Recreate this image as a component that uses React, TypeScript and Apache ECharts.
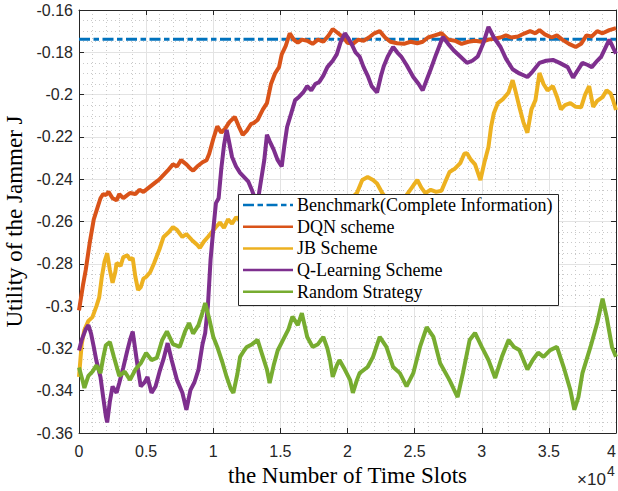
import { useEffect, useRef } from "react";
import * as echarts from "echarts";

const seriesNames = [
  "Benchmark(Complete Information)",
  "DQN scheme",
  "JB Scheme",
  "Q-Learning Scheme",
  "Random Strategy",
];

const benchmarkValue = -0.1738;
const benchmarkX = [0, 4];

const dqnX = [0, 0.03, 0.05, 0.08, 0.11, 0.14, 0.16, 0.18, 0.2, 0.22, 0.25, 0.28, 0.3, 0.33, 0.35, 0.38, 0.42, 0.45, 0.48, 0.52, 0.56, 0.6, 0.63, 0.66, 0.7, 0.73, 0.76, 0.8, 0.83, 0.85, 0.88, 0.92, 0.95, 0.97, 1.0, 1.03, 1.06, 1.09, 1.12, 1.16, 1.19, 1.22, 1.25, 1.28, 1.3, 1.33, 1.37, 1.4, 1.43, 1.46, 1.49, 1.51, 1.54, 1.57, 1.6, 1.63, 1.66, 1.7, 1.74, 1.78, 1.82, 1.86, 1.89, 1.93, 1.97, 2.0, 2.04, 2.08, 2.12, 2.16, 2.2, 2.24, 2.28, 2.32, 2.37, 2.42, 2.47, 2.52, 2.56, 2.6, 2.65, 2.7, 2.75, 2.8, 2.85, 2.9, 2.95, 3.0, 3.05, 3.1, 3.14, 3.18, 3.22, 3.27, 3.32, 3.36, 3.4, 3.43, 3.47, 3.52, 3.56, 3.6, 3.65, 3.7, 3.74, 3.78, 3.82, 3.86, 3.9, 3.95, 4.0];
const dqnY = [-0.302, -0.29, -0.283, -0.27, -0.259, -0.253, -0.249, -0.247, -0.2475, -0.246, -0.249, -0.25, -0.247, -0.249, -0.248, -0.2465, -0.247, -0.245, -0.246, -0.244, -0.242, -0.24, -0.238, -0.236, -0.233, -0.234, -0.231, -0.233, -0.235, -0.236, -0.234, -0.232, -0.231, -0.228, -0.221, -0.215, -0.218, -0.216, -0.213, -0.2105, -0.215, -0.219, -0.217, -0.214, -0.2135, -0.212, -0.207, -0.204, -0.195, -0.19, -0.187, -0.181, -0.177, -0.171, -0.174, -0.1755, -0.174, -0.1745, -0.176, -0.174, -0.175, -0.172, -0.169, -0.171, -0.173, -0.1755, -0.176, -0.174, -0.1745, -0.173, -0.171, -0.17, -0.173, -0.175, -0.1757, -0.176, -0.175, -0.1757, -0.175, -0.173, -0.172, -0.171, -0.174, -0.1745, -0.176, -0.175, -0.1745, -0.175, -0.174, -0.1735, -0.173, -0.172, -0.173, -0.1725, -0.171, -0.17, -0.171, -0.1695, -0.1715, -0.173, -0.172, -0.174, -0.176, -0.1775, -0.176, -0.172, -0.1725, -0.17, -0.171, -0.1695, -0.1686];

const jbX = [0, 0.02, 0.04, 0.07, 0.1, 0.13, 0.15, 0.17, 0.19, 0.21, 0.23, 0.25, 0.27, 0.28, 0.31, 0.33, 0.36, 0.38, 0.4, 0.42, 0.44, 0.46, 0.48, 0.5, 0.53, 0.56, 0.6, 0.63, 0.67, 0.7, 0.73, 0.77, 0.8, 0.84, 0.88, 0.9, 0.93, 0.96, 0.99, 1.02, 1.05, 1.08, 1.11, 1.14, 1.17, 1.2, 1.25, 1.32, 1.4, 1.48, 1.55, 1.62, 1.7, 1.78, 1.85, 1.92, 1.98, 2.03, 2.07, 2.11, 2.15, 2.19, 2.22, 2.26, 2.3, 2.35, 2.4, 2.45, 2.49, 2.52, 2.55, 2.58, 2.62, 2.66, 2.7, 2.73, 2.76, 2.8, 2.84, 2.87, 2.89, 2.92, 2.95, 2.99, 3.02, 3.05, 3.07, 3.09, 3.12, 3.16, 3.2, 3.23, 3.25, 3.28, 3.31, 3.34, 3.37, 3.4, 3.43, 3.46, 3.49, 3.53, 3.56, 3.59, 3.62, 3.66, 3.7, 3.74, 3.77, 3.8, 3.83, 3.86, 3.9, 3.93, 3.96, 3.98, 4.0];
const jbY = [-0.3335, -0.318, -0.3113, -0.307, -0.3052, -0.3, -0.296, -0.2862, -0.279, -0.275, -0.283, -0.289, -0.284, -0.2796, -0.281, -0.2768, -0.276, -0.278, -0.2773, -0.2862, -0.2924, -0.291, -0.287, -0.2862, -0.284, -0.2796, -0.273, -0.2673, -0.265, -0.2626, -0.264, -0.2673, -0.266, -0.2687, -0.271, -0.2725, -0.2695, -0.2673, -0.265, -0.2626, -0.2605, -0.263, -0.259, -0.261, -0.258, -0.2595, -0.256, -0.258, -0.255, -0.257, -0.254, -0.256, -0.253, -0.255, -0.252, -0.254, -0.25, -0.249, -0.2465, -0.2404, -0.239, -0.2404, -0.242, -0.2466, -0.25, -0.253, -0.251, -0.2466, -0.243, -0.2404, -0.244, -0.2466, -0.245, -0.246, -0.2455, -0.241, -0.2366, -0.235, -0.2324, -0.228, -0.2277, -0.2309, -0.233, -0.2404, -0.232, -0.2248, -0.215, -0.2088, -0.204, -0.202, -0.199, -0.1932, -0.198, -0.2058, -0.213, -0.218, -0.207, -0.2026, -0.1898, -0.195, -0.198, -0.196, -0.201, -0.207, -0.205, -0.204, -0.2058, -0.206, -0.2, -0.196, -0.2058, -0.203, -0.2012, -0.198, -0.1994, -0.203, -0.2073];

const qX = [0, 0.02, 0.05, 0.07, 0.09, 0.11, 0.13, 0.16, 0.18, 0.2, 0.21, 0.23, 0.25, 0.28, 0.3, 0.33, 0.36, 0.38, 0.4, 0.42, 0.44, 0.46, 0.49, 0.51, 0.54, 0.57, 0.6, 0.63, 0.66, 0.69, 0.73, 0.77, 0.8, 0.83, 0.86, 0.89, 0.92, 0.94, 0.96, 0.98, 1.0, 1.02, 1.04, 1.06, 1.08, 1.1, 1.12, 1.14, 1.17, 1.2, 1.23, 1.26, 1.29, 1.31, 1.33, 1.35, 1.38, 1.4, 1.42, 1.45, 1.48, 1.51, 1.53, 1.55, 1.58, 1.61, 1.64, 1.67, 1.7, 1.73, 1.76, 1.79, 1.82, 1.85, 1.89, 1.92, 1.95, 1.98, 2.0, 2.03, 2.06, 2.09, 2.12, 2.15, 2.18, 2.22, 2.25, 2.27, 2.3, 2.34, 2.37, 2.4, 2.44, 2.49, 2.53, 2.56, 2.59, 2.62, 2.66, 2.71, 2.75, 2.79, 2.84, 2.89, 2.93, 2.97, 3.01, 3.05, 3.09, 3.14, 3.18, 3.23, 3.28, 3.34, 3.38, 3.43, 3.48, 3.53, 3.58, 3.64, 3.68, 3.72, 3.75, 3.79, 3.82, 3.86, 3.89, 3.92, 3.95, 3.98, 4.0];
const qY = [-0.321, -0.316, -0.311, -0.309, -0.313, -0.3193, -0.326, -0.3335, -0.343, -0.352, -0.355, -0.345, -0.338, -0.341, -0.3364, -0.329, -0.321, -0.316, -0.312, -0.321, -0.33, -0.338, -0.336, -0.3335, -0.341, -0.338, -0.331, -0.325, -0.3175, -0.3255, -0.335, -0.341, -0.349, -0.3397, -0.336, -0.33, -0.318, -0.3127, -0.3, -0.278, -0.264, -0.2513, -0.249, -0.235, -0.224, -0.2167, -0.223, -0.2295, -0.234, -0.237, -0.239, -0.241, -0.2455, -0.249, -0.251, -0.243, -0.231, -0.219, -0.222, -0.226, -0.231, -0.234, -0.224, -0.2153, -0.209, -0.2026, -0.201, -0.199, -0.196, -0.198, -0.195, -0.194, -0.191, -0.187, -0.184, -0.181, -0.175, -0.171, -0.1728, -0.176, -0.18, -0.182, -0.187, -0.191, -0.196, -0.199, -0.191, -0.1866, -0.182, -0.1775, -0.18, -0.182, -0.186, -0.1917, -0.195, -0.198, -0.193, -0.188, -0.181, -0.1728, -0.176, -0.179, -0.182, -0.185, -0.184, -0.182, -0.176, -0.168, -0.173, -0.1775, -0.183, -0.188, -0.19, -0.1917, -0.189, -0.185, -0.184, -0.1836, -0.185, -0.187, -0.192, -0.188, -0.185, -0.186, -0.187, -0.184, -0.182, -0.178, -0.174, -0.178, -0.1806];

const randX = [0, 0.03, 0.04, 0.07, 0.1, 0.13, 0.16, 0.18, 0.2, 0.23, 0.26, 0.3, 0.34, 0.38, 0.42, 0.46, 0.5, 0.54, 0.58, 0.62, 0.655, 0.7, 0.75, 0.79, 0.82, 0.85, 0.89, 0.92, 0.94, 0.97, 1.0, 1.03, 1.07, 1.1, 1.13, 1.15, 1.18, 1.2, 1.23, 1.25, 1.29, 1.33, 1.37, 1.4, 1.42, 1.45, 1.48, 1.52, 1.56, 1.59, 1.63, 1.66, 1.7, 1.74, 1.78, 1.82, 1.85, 1.87, 1.89, 1.92, 1.94, 1.98, 2.02, 2.04, 2.07, 2.09, 2.15, 2.19, 2.24, 2.29, 2.34, 2.39, 2.44, 2.49, 2.54, 2.59, 2.64, 2.69, 2.76, 2.82, 2.86, 2.91, 2.95, 3.0, 3.05, 3.1, 3.15, 3.2, 3.24, 3.28, 3.34, 3.38, 3.42, 3.46, 3.51, 3.56, 3.61, 3.66, 3.69, 3.72, 3.75, 3.81, 3.86, 3.9, 3.93, 3.97, 4.0];
const randY = [-0.329, -0.336, -0.3387, -0.333, -0.331, -0.328, -0.3317, -0.3245, -0.3185, -0.317, -0.324, -0.333, -0.331, -0.3349, -0.33, -0.327, -0.3222, -0.3255, -0.3245, -0.316, -0.312, -0.318, -0.3193, -0.312, -0.308, -0.313, -0.309, -0.303, -0.2985, -0.306, -0.3145, -0.3193, -0.327, -0.3335, -0.339, -0.341, -0.332, -0.324, -0.321, -0.3193, -0.318, -0.316, -0.324, -0.33, -0.3364, -0.328, -0.321, -0.316, -0.311, -0.305, -0.309, -0.3033, -0.3146, -0.3193, -0.318, -0.3146, -0.32, -0.3255, -0.3335, -0.328, -0.3255, -0.33, -0.335, -0.341, -0.335, -0.3317, -0.3288, -0.324, -0.3146, -0.3193, -0.3288, -0.3317, -0.338, -0.3317, -0.3193, -0.31, -0.3146, -0.327, -0.335, -0.343, -0.3317, -0.316, -0.3127, -0.3193, -0.3255, -0.334, -0.324, -0.316, -0.3193, -0.3208, -0.33, -0.3255, -0.322, -0.324, -0.3208, -0.3193, -0.3288, -0.3397, -0.349, -0.343, -0.3317, -0.3193, -0.308, -0.2965, -0.305, -0.3193, -0.324];

const colors = ["#0072BD", "#D95319", "#EDB120", "#7E2F8E", "#77AC30"];
const benchDash = [11, 3.5, 5.5, 3.5];

const zip = (xs: number[], ys: number[]) => xs.map((x, i) => [x, ys[i]]);

const axisColor = "#262626";

// Legend box geometry (pixels)
const LEG_LEFT = 238;
const LEG_TOP = 194;
const LEG_W = 320;
const LEG_H = 111;
const LEG_ROW0 = 205;
const LEG_ROW_STEP = 21.7;

export default function App() {
  const ref = useRef<HTMLDivElement>(null);
  useEffect(() => {
    const chart = echarts.init(ref.current!, null, { renderer: "svg" });
    const noisy = (name: string, color: string, data: number[][]) => ({
      name,
      type: "line",
      data,
      symbol: "none",
      showSymbol: false,
      xAxisIndex: 0,
      yAxisIndex: 0,
      z: 2,
      lineStyle: { color, width: 4 },
      itemStyle: { color },
      emphasis: { disabled: true },
    });

    const legendChildren: any[] = [
      {
        type: "rect",
        z: 100,
        shape: { x: LEG_LEFT + 0.5, y: LEG_TOP + 0.5, width: LEG_W, height: LEG_H },
        style: { fill: "#fff", stroke: axisColor, lineWidth: 1 },
      },
    ];
    seriesNames.forEach((name, i) => {
      const cy = LEG_ROW0 + i * LEG_ROW_STEP;
      legendChildren.push({
        type: "line",
        z: 101,
        shape: { x1: LEG_LEFT + 5, y1: cy, x2: LEG_LEFT + 55, y2: cy },
        style: {
          stroke: colors[i],
          lineWidth: 2.5,
          lineDash: i === 0 ? benchDash : null,
        },
      });
      legendChildren.push({
        type: "text",
        z: 101,
        x: LEG_LEFT + 59,
        y: cy,
        style: {
          text: name,
          fontFamily: "Liberation Serif",
          fontSize: 18,
          fill: "#000",
          verticalAlign: "middle",
          align: "left",
        },
      });
    });

    chart.setOption({
      animation: false,
      backgroundColor: "#fff",
      grid: { left: 79, right: 2, top: 10, bottom: 58, containLabel: false, outerBoundsMode: "none" },
      xAxis: [
        {
          type: "value",
          min: 0,
          max: 4,
          interval: 0.5,
          position: "bottom",
          name: "the Number of Time Slots",
          nameLocation: "middle",
          nameGap: 31,
          nameTextStyle: { fontFamily: "Liberation Serif", fontSize: 23, color: "#000" },
          axisLine: { show: true, onZero: false, lineStyle: { color: axisColor, width: 1 } },
          axisTick: { show: true, inside: true, length: 5, lineStyle: { color: axisColor } },
          axisLabel: { margin: 10, fontFamily: "Liberation Sans", fontSize: 16, color: axisColor, showMinLabel: true, showMaxLabel: true, alignMaxLabel: "right" },
          splitLine: { show: true, lineStyle: { color: "#e3e3e3", width: 1 } },
          minorTick: { show: false, splitNumber: 5 },
          minorSplitLine: { show: true, lineStyle: { color: "#c9c9c9", width: 1, type: [1, 3] } },
        },
        {
          type: "value",
          min: 0,
          max: 4,
          interval: 0.5,
          position: "top",
          axisLine: { show: true, onZero: false, lineStyle: { color: axisColor, width: 1 } },
          axisTick: { show: true, inside: true, length: 5, lineStyle: { color: axisColor } },
          axisLabel: { show: false },
          splitLine: { show: false },
        },
      ],
      yAxis: [
        {
          type: "value",
          min: -0.36,
          max: -0.16,
          interval: 0.02,
          position: "left",
          name: "Utility of the Jammer J",
          nameLocation: "middle",
          nameGap: 48,
          nameTextStyle: { fontFamily: "Liberation Serif", fontSize: 23, color: "#000" },
          axisLine: { show: true, onZero: false, lineStyle: { color: axisColor, width: 1 } },
          axisTick: { show: true, inside: true, length: 5, lineStyle: { color: axisColor } },
          axisLabel: { margin: 6, fontFamily: "Liberation Sans", fontSize: 16, color: axisColor, showMinLabel: true, showMaxLabel: true },
          splitLine: { show: true, lineStyle: { color: "#e3e3e3", width: 1 } },
          minorTick: { show: false, splitNumber: 4 },
          minorSplitLine: { show: true, lineStyle: { color: "#c9c9c9", width: 1, type: [1, 3] } },
        },
        {
          type: "value",
          min: -0.36,
          max: -0.16,
          interval: 0.02,
          position: "right",
          axisLine: { show: true, onZero: false, lineStyle: { color: axisColor, width: 1 } },
          axisTick: { show: true, inside: true, length: 5, lineStyle: { color: axisColor } },
          axisLabel: { show: false },
          splitLine: { show: false },
        },
      ],
      series: [
        {
          name: seriesNames[0],
          type: "line",
          data: benchmarkX.map((x) => [x, benchmarkValue]),
          symbol: "none",
          showSymbol: false,
          xAxisIndex: 0,
          yAxisIndex: 0,
          z: 2,
          lineStyle: { color: colors[0], width: 3, type: benchDash },
          itemStyle: { color: colors[0] },
          emphasis: { disabled: true },
        },
        noisy(seriesNames[1], colors[1], zip(dqnX, dqnY)),
        noisy(seriesNames[2], colors[2], zip(jbX, jbY)),
        noisy(seriesNames[3], colors[3], zip(qX, qY)),
        noisy(seriesNames[4], colors[4], zip(randX, randY)),
      ],
      graphic: [
        ...legendChildren,
        {
          type: "text",
          x: 577,
          y: 471,
          z: 100,
          style: { text: "×10", fontFamily: "Liberation Sans", fontSize: 17, fill: axisColor },
        },
        {
          type: "text",
          x: 607,
          y: 464,
          z: 100,
          style: { text: "4", fontFamily: "Liberation Sans", fontSize: 14, fill: axisColor },
        },
      ],
    });
    return () => chart.dispose();
  }, []);
  return (
    <div
      ref={ref}
      style={{ position: "absolute", left: 0, top: 0, width: 618, height: 491, background: "#fff" }}
    />
  );
}
